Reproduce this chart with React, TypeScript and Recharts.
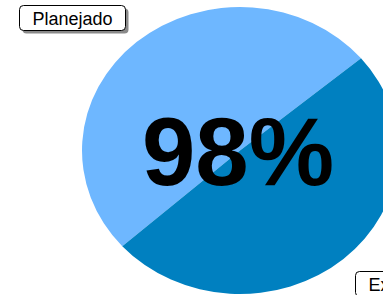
import { PieChart, Pie, Cell } from 'recharts'

const categories = ['Planejado', 'Executado']
const values = [100, 98]
const colors = ['#6EB7FF', '#0080C0']

const data = categories.map((name, i) => ({ name, value: values[i] }))
const pct = Math.round((values[1] / values[0]) * 100) + '%'

const W = 383
const H = 295
const SX = 1.101 // the original pie is a little wider than tall
const FONT = "'Liberation Sans', Arial, sans-serif"

function textWidth(s: string, size: number) {
  const ctx = document.createElement('canvas').getContext('2d')
  if (!ctx) return s.length * size * 0.5
  ctx.font = `${size}px ${FONT}`
  return ctx.measureText(s).width
}

function BoxLabel(props: any) {
  const { cx, cy, midAngle, outerRadius, name, index } = props
  const a = (-midAngle * Math.PI) / 180
  const r = outerRadius * 1.108
  const x = cx + r * Math.cos(a) * SX
  const y = cy + r * Math.sin(a)
  const w = Math.round(textWidth(name, 18) + 26)
  const h = 25
  const bx = Math.round(x < cx ? x - w : x) + 0.5
  const by = Math.round(y < cy ? y - h : y) + 0.5
  return (
    <g>
      <rect x={bx + 3} y={by + 3} width={w} height={h} rx={4} fill="#8a8a8a" />
      <rect x={bx} y={by} width={w} height={h} rx={4} fill="#fff" stroke="#000" />
      <text x={bx + w / 2} y={by + 19} textAnchor="middle" fontSize={18} fontFamily={FONT} fill="#000">
        {name}
      </text>
      {index === 0 && (
        <text x={cx - 2} y={cy} dy="0.36em" textAnchor="middle" fontSize={96} fontWeight="bold" fontFamily={FONT} fill="#000">
          {pct}
        </text>
      )}
    </g>
  )
}

export default function App() {
  return (
    <div style={{ position: 'absolute', left: 0, top: 0, width: W, height: H, background: '#fff', overflow: 'hidden' }}>
      <style>{`.stretch .recharts-sector { transform-box: view-box; transform-origin: 240px 150.5px; transform: scaleX(${SX}); }`}</style>
      <PieChart width={W} height={H} margin={{ top: 0, right: 0, bottom: 0, left: 0 }} className="stretch">
        <Pie
          data={data}
          dataKey="value"
          nameKey="name"
          cx={240}
          cy={150.5}
          outerRadius={143.5}
          startAngle={40}
          endAngle={400}
          stroke="none"
          labelLine={false}
          label={BoxLabel}
          isAnimationActive={false}
        >
          {data.map((d, i) => (
            <Cell key={d.name} fill={colors[i]} />
          ))}
        </Pie>
      </PieChart>
    </div>
  )
}
